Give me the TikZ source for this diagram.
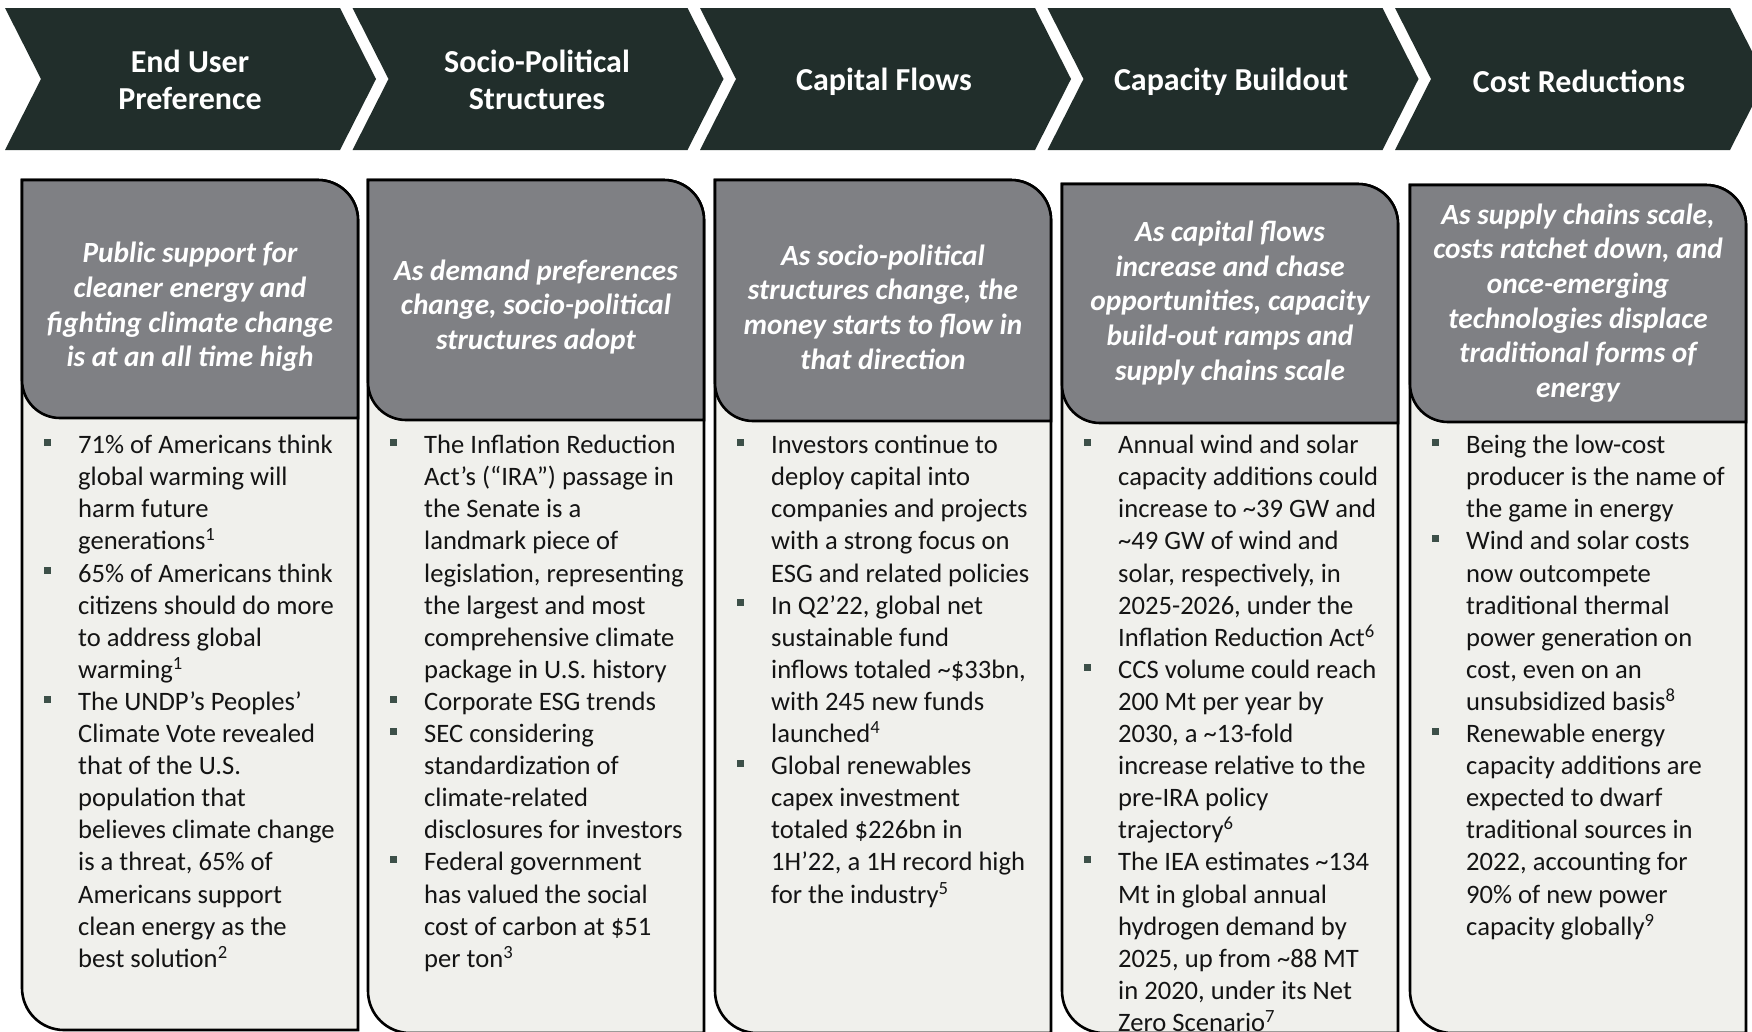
\documentclass[tikz,border=0pt]{standalone}
\usepackage{fontspec}
\setmainfont{Carlito}

\definecolor{chev}{HTML}{212E2B}
\definecolor{hdr}{HTML}{7F8084}
\definecolor{bodyfill}{HTML}{F0F0EC}
\definecolor{bulc}{HTML}{3D5049}
\definecolor{txt}{HTML}{141414}

% square list marker and footnote mark
\newcommand\bsq{\makebox[34.5pt][l]{\textcolor{bulc}{\rule[7.8pt]{7pt}{7pt}}}}
\newcommand\fn[1]{\textsuperscript{#1}}

\tikzset{
  chevron/.style={fill=chev},
  chevlabel/.style={text=white, font=\bfseries\fontsize{32}{36.7}\selectfont, align=center, inner sep=0},
  cardbody/.style={fill=bodyfill, draw=black, line width=2.6pt},
  cardhead/.style={fill=hdr, draw=black, line width=2.6pt},
  headtext/.style={text=white, font=\bfseries\itshape\fontsize{29.3}{34.6}\selectfont, align=center, inner sep=0},
  bodytext/.style={text=txt, font=\fontsize{26.6}{32.1}\selectfont, anchor=north west, inner sep=0},
}

\begin{document}
\begin{tikzpicture}[x=1pt,y=-1pt]
\useasboundingbox (0,0) rectangle (1752,1031);

% process chevrons along the top
\foreach \k in {0,...,4} {
  \pgfmathsetmacro\a{5+347.5*\k}
  \fill[chevron] (\a,8) -- ({\a+335},8) -- ({\a+371},79) -- ({\a+335},150)
    -- (\a,150) -- ({\a+36},79) -- cycle;
}
\node[chevlabel] (c1) at (190,80) {End User\\Preference};
\node[chevlabel] (c2) at (537,80) {Socio-Political\\Structures};
\node[chevlabel] (c3) at (884,81.5) {Capital Flows};
\node[chevlabel] (c4) at (1231,81.5) {Capacity Buildout};
\node[chevlabel] (c5) at (1579,81.5) {Cost Reductions};

% cards: body panel with a grey heading panel on top
\foreach \L/\T/\H/\B in {22/180/418/1030, 368/180/420/1033, 715/180/421/1033, 1062/184/423/1033, 1410/185/422/1033} {
  \pgfmathsetmacro\R{\L+336}
  \draw[cardbody] (\L,\T) -- ({\R-40},\T) .. controls ({\R-17.9},\T) and (\R,{\T+17.9}) .. (\R,{\T+40})
    -- (\R,\B) -- ({\L+42},\B) .. controls ({\L+18.8},\B) and (\L,{\B-18.8}) .. (\L,{\B-42}) -- cycle;
  \draw[cardhead] (\L,\T) -- ({\R-40},\T) .. controls ({\R-17.9},\T) and (\R,{\T+17.9}) .. (\R,{\T+40})
    -- (\R,\H) -- ({\L+38},\H) .. controls ({\L+17},\H) and (\L,{\H-17}) .. (\L,{\H-38}) -- cycle;
}

% headings
\node[headtext] (h1) at (190,307) {Public support for\\cleaner energy and\\fighting climate change\\is at an all time high};
\node[headtext] (h2) at (536,307) {As demand preferences\\change, socio-political\\structures adopt};
\node[headtext] (h3) at (883,307) {As socio-political\\structures change, the\\money starts to flow in\\that direction};
\node[headtext] (h4) at (1230,303) {As capital flows\\increase and chase\\opportunities, capacity\\build-out ramps and\\supply chains scale};
\node[headtext] (h5) at (1578,303) {As supply chains scale,\\costs ratchet down, and\\once-emerging\\technologies displace\\traditional forms of\\energy};

% bullet lists
\node[bodytext] (b1) at (43.5,431) {\begin{tabular}{@{}l@{}l@{}}
\bsq & 71\% of Americans think\\
& global warming will\\
& harm future\\
& generations\fn{1}\\
\bsq & 65\% of Americans think\\
& citizens should do more\\
& to address global\\
& warming\fn{1}\\
\bsq & The UNDP’s Peoples’\\
& Climate Vote revealed\\
& that of the U.S.\\
& population that\\
& believes climate change\\
& is a threat, 65\% of\\
& Americans support\\
& clean energy as the\\
& best solution\fn{2}
\end{tabular}};

\node[bodytext] (b2) at (389.5,431) {\begin{tabular}{@{}l@{}l@{}}
\bsq & The Inflation Reduction\\
& Act’s (“IRA”) passage in\\
& the Senate is a\\
& landmark piece of\\
& legislation, representing\\
& the largest and most\\
& comprehensive climate\\
& package in U.S. history\\
\bsq & Corporate ESG trends\\
\bsq & SEC considering\\
& standardization of\\
& climate-related\\
& disclosures for investors\\
\bsq & Federal government\\
& has valued the social\\
& cost of carbon at \$51\\
& per ton\fn{3}
\end{tabular}};

\node[bodytext] (b3) at (736.5,431) {\begin{tabular}{@{}l@{}l@{}}
\bsq & Investors continue to\\
& deploy capital into\\
& companies and projects\\
& with a strong focus on\\
& ESG and related policies\\
\bsq & In Q2’22, global net\\
& sustainable fund\\
& inflows totaled \textasciitilde\$33bn,\\
& with 245 new funds\\
& launched\fn{4}\\
\bsq & Global renewables\\
& capex investment\\
& totaled \$226bn in\\
& 1H’22, a 1H record high\\
& for the industry\fn{5}
\end{tabular}};

\node[bodytext] (b4) at (1083.5,431) {\begin{tabular}{@{}l@{}l@{}}
\bsq & Annual wind and solar\\
& capacity additions could\\
& increase to \textasciitilde39 GW and\\
& \textasciitilde49 GW of wind and\\
& solar, respectively, in\\
& 2025-2026, under the\\
& Inflation Reduction Act\fn{6}\\
\bsq & CCS volume could reach\\
& 200 Mt per year by\\
& 2030, a \textasciitilde13-fold\\
& increase relative to the\\
& pre-IRA policy\\
& trajectory\fn{6}\\
\bsq & The IEA estimates \textasciitilde134\\
& Mt in global annual\\
& hydrogen demand by\\
& 2025, up from \textasciitilde88 MT\\
& in 2020, under its Net\\
& Zero Scenario\fn{7}
\end{tabular}};

\node[bodytext] (b5) at (1431.5,431) {\begin{tabular}{@{}l@{}l@{}}
\bsq & Being the low-cost\\
& producer is the name of\\
& the game in energy\\
\bsq & Wind and solar costs\\
& now outcompete\\
& traditional thermal\\
& power generation on\\
& cost, even on an\\
& unsubsidized basis\fn{8}\\
\bsq & Renewable energy\\
& capacity additions are\\
& expected to dwarf\\
& traditional sources in\\
& 2022, accounting for\\
& 90\% of new power\\
& capacity globally\fn{9}
\end{tabular}};
\end{tikzpicture}
\end{document}
